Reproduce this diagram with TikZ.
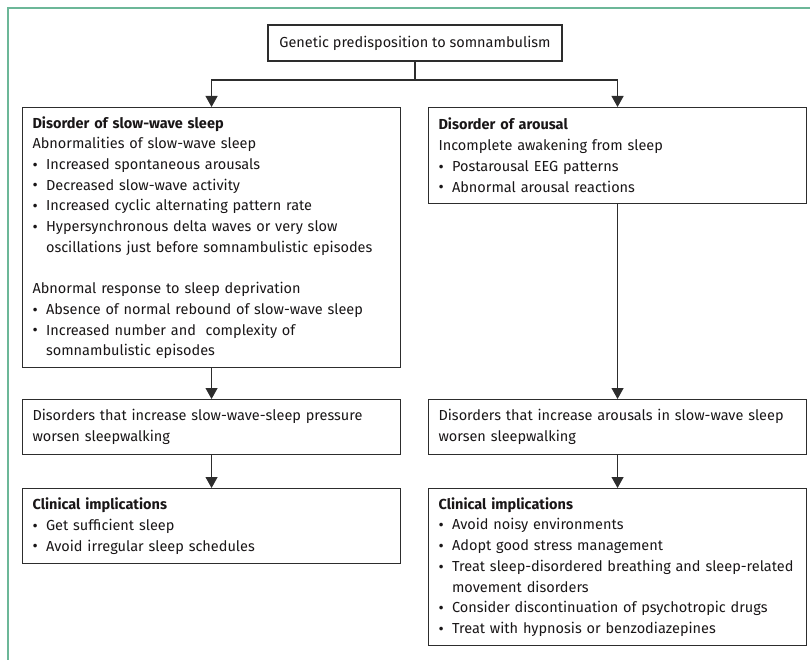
\documentclass[tikz,border=0pt]{standalone}
\usepackage{fontspec}
\setmainfont{Fira Sans}
\usetikzlibrary{arrows.meta}
\definecolor{framegreen}{RGB}{108,183,152}
\definecolor{boxline}{RGB}{45,45,45}
\definecolor{txt}{RGB}{25,22,23}
\newcommand{\bul}{\makebox[13.5pt][l]{\raisebox{-0.1ex}{\scalebox{1.1}{\textbullet}}}}
\newcommand{\cont}{\hspace*{13.5pt}}
\tikzset{
  box/.style={draw=boxline, line width=1.1pt, anchor=north west, align=left,
    inner xsep=10pt, inner ysep=0pt, text width=358pt, text=txt,
    font=\fontsize{14.5}{20.7}\selectfont},
  topbox/.style={draw=boxline, line width=1.1pt, text=txt, minimum width=294pt,
    minimum height=36pt, inner sep=0pt, font=\fontsize{14.5}{20.7}\selectfont},
  arr/.style={draw=boxline, line width=1.1pt, -{Triangle[width=12pt,length=11pt]}},
  ln/.style={draw=boxline, line width=1.1pt}
}
\begin{document}
\begin{tikzpicture}[x=1pt,y=-1pt]
\useasboundingbox (0,0) rectangle (810,660);
\draw[framegreen, line width=2pt] (8,660) -- (8,8) -- (810,8);

\node[topbox] (top) at (415,43) {Genetic predisposition to somnambulism};

\node[box, minimum height=260pt] (L1) at (22,107) {%
\textbf{Disorder of slow-wave sleep}\\
Abnormalities of slow-wave sleep\\
\bul Increased spontaneous arousals\\
\bul Decreased slow-wave activity\\
\bul Increased cyclic alternating pattern rate\\
\bul Hypersynchronous delta waves or very slow\\
\cont oscillations just before somnambulistic episodes\\[20.7pt]
Abnormal response to sleep deprivation\\
\bul Absence of normal rebound of slow-wave sleep\\
\bul Increased number and\ \ complexity of\\
\cont somnambulistic episodes};

\node[box, minimum height=96pt] (R1) at (428,107) {%
\textbf{Disorder of arousal}\\
Incomplete awakening from sleep\\
\bul Postarousal EEG patterns\\
\bul Abnormal arousal reactions};

\node[box, minimum height=55pt] (L2) at (22,399) {%
Disorders that increase slow-wave-sleep pressure\\
worsen sleepwalking};

\node[box, minimum height=55pt] (R2) at (428,399) {%
Disorders that increase arousals in slow-wave sleep\\
worsen sleepwalking};

\node[box, minimum height=75pt] (L3) at (22,488) {%
\textbf{Clinical implications}\\
\bul Get sufficient sleep\\
\bul Avoid irregular sleep schedules};

\node[box, minimum height=157pt] (R3) at (428,488) {%
\textbf{Clinical implications}\\
\bul Avoid noisy environments\\
\bul Adopt good stress management\\
\bul Treat sleep-disordered breathing and sleep-related\\
\cont movement disorders\\
\bul Consider discontinuation of psychotropic drugs\\
\bul Treat with hypnosis or benzodiazepines};

\coordinate (split) at (415,80);
\draw[ln] (top.south) -- (split);
\draw[arr] (split) -| (L1.north);
\draw[arr] (split) -| (R1.north);
\draw[arr] (L1.south) -- (L2.north);
\draw[arr] (R1.south) -- (R2.north);
\draw[arr] (L2.south) -- (L3.north);
\draw[arr] (R2.south) -- (R3.north);
\end{tikzpicture}
\end{document}
